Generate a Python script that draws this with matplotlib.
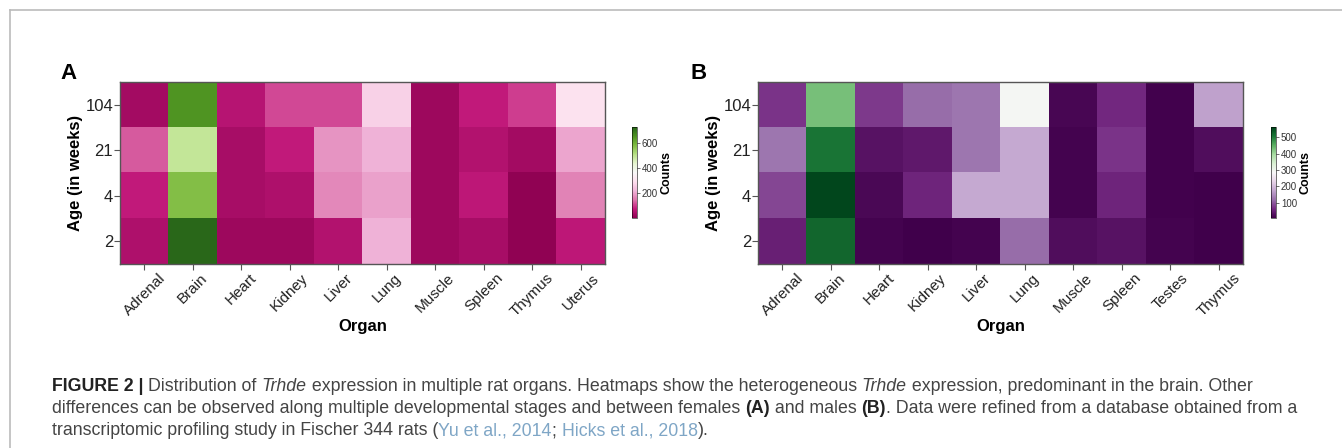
import numpy as np
import matplotlib
matplotlib.use('Agg')
import matplotlib.pyplot as plt
from matplotlib.lines import Line2D

plt.rcParams['font.family'] = ['Liberation Sans', 'DejaVu Sans']

ages = ['104', '21', '4', '2']
organs_f = ['Adrenal', 'Brain', 'Heart', 'Kidney', 'Liver', 'Lung', 'Muscle', 'Spleen', 'Thymus', 'Uterus']
organs_m = ['Adrenal', 'Brain', 'Heart', 'Kidney', 'Liver', 'Lung', 'Muscle', 'Spleen', 'Testes', 'Thymus']

# female counts, rows = 104, 21, 4, 2 weeks
counts_f_104 = [30, 650, 55, 110, 110, 265, 20, 70, 100, 300]
counts_f_21 = [125, 490, 35, 70, 180, 215, 20, 50, 30, 200]
counts_f_4 = [70, 575, 35, 45, 165, 195, 20, 65, 5, 160]
counts_f_2 = [45, 720, 20, 20, 50, 215, 20, 35, 5, 65]

# male counts
counts_m_104 = [70, 430, 75, 115, 125, 290, 15, 60, 10, 170]
counts_m_21 = [125, 510, 30, 40, 125, 180, 12, 70, 10, 25]
counts_m_4 = [85, 560, 18, 55, 180, 180, 12, 55, 10, 6]
counts_m_2 = [48, 525, 12, 4, 12, 115, 25, 30, 12, 6]

cb_ticks_f = [200, 400, 600]
cb_ticks_m = [100, 200, 300, 400, 500]

W, H = 1342, 448
fig = plt.figure(figsize=(W / 100, H / 100), dpi=100)

# outer frame of the figure box
fig.add_artist(Line2D([10 / W, 10 / W], [0, 1 - 10 / H], color='#bbbbbb', lw=1.2))
fig.add_artist(Line2D([10 / W, 1], [1 - 10 / H, 1 - 10 / H], color='#bbbbbb', lw=1.2))


def panel(data, organs, cmap, vmin, vmax, ticks, ax_left, cb_left, letter, letter_x):
    ax = fig.add_axes([ax_left / W, 1 - 264 / H, 485 / W, 182 / H])
    im = ax.imshow(np.array(data), cmap=cmap, vmin=vmin, vmax=vmax, aspect='auto',
                   interpolation='nearest')
    ax.set_yticks(range(len(ages)))
    ax.set_yticklabels(ages, fontsize=12, color='#222222')
    ax.set_xticks(range(len(organs)))
    ax.set_xticklabels(organs, fontsize=11, rotation=45, ha='center', va='top',
                       color='#222222')
    ax.tick_params(length=4, width=0.8, color='#555555', pad=1)
    ax.set_xlabel('Organ', fontsize=12, fontweight='bold', labelpad=0)
    ax.set_ylabel('Age (in weeks)', fontsize=12, fontweight='bold', labelpad=2)
    for s in ax.spines.values():
        s.set_color('#555555')
        s.set_linewidth(1.0)
    cax = fig.add_axes([cb_left / W, 1 - 218 / H, 5 / W, 91 / H])
    cb = fig.colorbar(im, cax=cax, ticks=ticks)
    cb.outline.set_linewidth(0.4)
    cax.tick_params(labelsize=7, length=2, width=0.5, pad=1.5, colors='#333333')
    cb.set_label('Counts', fontsize=9, fontweight='bold', labelpad=2)
    fig.text(letter_x / W, 1 - 79 / H, letter, fontsize=16, fontweight='bold')


panel([counts_f_104, counts_f_21, counts_f_4, counts_f_2], organs_f, 'PiYG', 0, 728,
      cb_ticks_f, 120, 632, 'A', 60)
panel([counts_m_104, counts_m_21, counts_m_4, counts_m_2], organs_m, 'PRGn', 6, 563,
      cb_ticks_m, 758, 1271, 'B', 690)

# caption with mixed styles
grey = '#444444'
link = '#7fa6c6'
lines = [
    [('FIGURE 2 | ', 'bold', 'normal', '#222222'),
     ('Distribution of ', 'normal', 'normal', grey),
     ('Trhde', 'normal', 'italic', grey),
     (' expression in multiple rat organs. Heatmaps show the heterogeneous ', 'normal', 'normal', grey),
     ('Trhde', 'normal', 'italic', grey),
     (' expression, predominant in the brain. Other', 'normal', 'normal', grey)],
    [('differences can be observed along multiple developmental stages and between females ', 'normal', 'normal', grey),
     ('(A)', 'bold', 'normal', '#222222'),
     (' and males ', 'normal', 'normal', grey),
     ('(B)', 'bold', 'normal', '#222222'),
     ('. Data were refined from a database obtained from a', 'normal', 'normal', grey)],
    [('transcriptomic profiling study in Fischer 344 rats (', 'normal', 'normal', grey),
     ('Yu et al., 2014', 'normal', 'normal', link),
     ('; ', 'normal', 'normal', grey),
     ('Hicks et al., 2018', 'normal', 'normal', link),
     (').', 'normal', 'normal', grey)],
]
line_y = [391, 413, 435]
fig.canvas.draw()
renderer = fig.canvas.get_renderer()
for segs, y in zip(lines, line_y):
    x = 52
    for txt, weight, style, col in segs:
        t = fig.text(x / W, 1 - y / H, txt, fontsize=12.75, fontweight=weight,
                     fontstyle=style, color=col, va='baseline', ha='left')
        bb = t.get_window_extent(renderer=renderer)
        x += bb.width

fig.savefig('out.png', dpi=100)
